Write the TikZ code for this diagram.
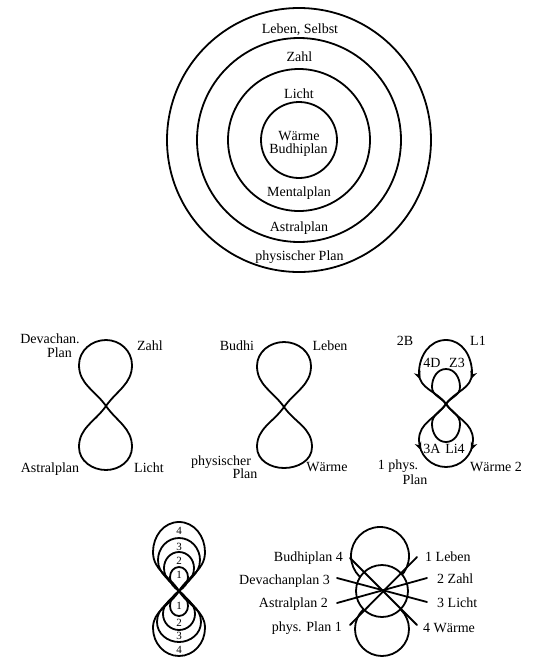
\documentclass[tikz,border=0pt]{standalone}
\usepackage{fontspec}
\setmainfont{Liberation Serif}
\usetikzlibrary{arrows.meta,decorations.markings}
\begin{document}
\begin{tikzpicture}[x=1pt,y=1pt,
  curve/.style={line width=1.8pt, line cap=round, line join=round},
  lbl/.style={font=\fontsize{14}{16}\selectfont, inner sep=0pt, anchor=base},
  lble/.style={lbl, anchor=base east},
  lblw/.style={lbl, anchor=base west},
  num/.style={font=\fontsize{11}{12}\selectfont, inner sep=0pt},
  arrowmid/.style={postaction={decorate}, decoration={markings,
     mark=at position #1 with {\arrow{Stealth[length=8pt,width=7pt]}}}}
]
\useasboundingbox (0,0) rectangle (535,-665);

% ---------- concentric circles ----------
\coordinate (cc) at (299,-140);
\foreach \r in {132,102,71,38} \draw[curve] (cc) circle[radius=\r];
\node[lbl] (t1) at (300,-33.3) {Leben, Selbst};
\node[lbl] (t2) at (299.5,-61.7) {Zahl};
\node[lbl] (t3) at (299,-98.3) {Licht};
\node[lbl] (t4) at (299,-140) {Wärme};
\node[lbl] (t5) at (298.5,-153.3) {Budhiplan};
\node[lbl] (t6) at (299,-196.7) {Mentalplan};
\node[lbl] (t7) at (299,-231.7) {Astralplan};
\node[lbl] (t8) at (299.5,-260) {physischer Plan};

% ---------- figure eight 1 ----------
\coordinate (fa) at (106,-406);
\draw[curve] (fa) to[out=125,in=-90] (79,-365) to[out=90,in=180] (106,-340)
  to[out=0,in=90] (132,-365) to[out=-90,in=55] (fa)
  to[out=-125,in=90] (79,-447) to[out=-90,in=180] (106,-470)
  to[out=0,in=-90] (132,-447) to[out=90,in=-55] (fa);
\node[lbl] (a1) at (50,-343) {Devachan.};
\node[lbl] (a2) at (59.5,-357) {Plan};
\node[lbl] (a3) at (150,-350) {Zahl};
\node[lbl] (a4) at (50,-472) {Astralplan};
\node[lbl] (a5) at (149,-472) {Licht};

% ---------- figure eight 2 ----------
\coordinate (fb) at (284,-407);
\draw[curve] (fb) to[out=125,in=-90] (257,-366) to[out=90,in=180] (284,-342)
  to[out=0,in=90] (311,-366) to[out=-90,in=55] (fb)
  to[out=-125,in=90] (257,-447) to[out=-90,in=180] (284,-468)
  to[out=0,in=-90] (312,-447) to[out=90,in=-55] (fb);
\node[lbl] (b1) at (237,-350) {Budhi};
\node[lbl] (b2) at (330,-350) {Leben};
\node[lbl] (b3) at (221,-465) {physischer};
\node[lbl] (b4) at (245,-478) {Plan};
\node[lbl] (b5) at (327,-471) {Wärme};

% ---------- figure eight 3 with arrows ----------
\coordinate (fc) at (446,-404);
\coordinate (fct) at (446,-340);
\coordinate (fcb) at (446,-467);
\draw[curve, arrowmid=0.6] (fct) to[out=180,in=90] (419,-373) to[out=-90,in=125] (fc);
\draw[curve, arrowmid=0.6] (fct) to[out=0,in=90] (472,-373) to[out=-90,in=55] (fc);
\draw[curve, arrowmid=0.64] (fc) to[out=-125,in=90] (419,-440) to[out=-90,in=180] (fcb);
\draw[curve, arrowmid=0.64] (fc) to[out=-55,in=90] (473,-440) to[out=-90,in=0] (fcb);
\draw[curve] (fc) to[out=125,in=-90] (432,-387) to[out=90,in=180] (446,-369)
  to[out=0,in=90] (460,-387) to[out=-90,in=55] (fc);
\draw[curve] (fc) to[out=-125,in=90] (432,-424) to[out=-90,in=180] (446,-442)
  to[out=0,in=-90] (460,-424) to[out=90,in=-55] (fc);
\node[lbl] (c1) at (405,-345) {2B};
\node[lbl] (c2) at (478,-345) {L1};
\node[lbl] (c3) at (432,-367) {4D};
\node[lbl] (c4) at (457,-367) {Z3};
\node[lbl] (c5) at (432,-453) {3A};
\node[lbl] (c6) at (455,-453) {Li4};
\node[lbl] (c7) at (398,-469) {1 phys.};
\node[lbl] (c8) at (415,-484) {Plan};
\node[lbl] (c9) at (496,-471) {Wärme 2};

% ---------- nested loops ----------
\coordinate (nc) at (179,-591);
\foreach \w/\m/\t/\a in {26/552/522/122, 21/560/538/126, 15/568/552/132, 9/577/567/145}
  \draw[curve] (nc) to[out=\a,in=-90] ({179-\w},-\m) to[out=90,in=180] (179,-\t)
    to[out=0,in=90] ({179+\w},-\m) to[out=-90,in={180-\a}] (nc);
\foreach \w/\m/\t/\a in {9/606/616/145, 16/614/630/132, 22/622/642/126, 26/628/656/122}
  \draw[curve] (nc) to[out=-\a,in=90] ({179-\w},-\m) to[out=-90,in=180] (179,-\t)
    to[out=0,in=-90] ({179+\w},-\m) to[out=90,in={\a-180}] (nc);
\node[num] (u4) at (179,-531) {4};
\node[num] (u3) at (179,-547) {3};
\node[num] (u2) at (179,-560.5) {2};
\node[num] (u1) at (179,-575) {1};
\node[num] (d1) at (179,-606) {1};
\node[num] (d2) at (179,-623) {2};
\node[num] (d3) at (179,-635.5) {3};
\node[num] (d4) at (179,-649.5) {4};

% ---------- three circles with crossing lines ----------
\draw[curve] (380,-556) circle[radius=29];
\draw[curve] (382,-629) circle[radius=27];
\filldraw[curve, fill=white] (382,-591) circle[radius=26];
\coordinate (pb4) at (350,-558);
\coordinate (pw4) at (417,-625);
\coordinate (pl1) at (417,-557);
\coordinate (pp1) at (350,-625);
\coordinate (pd3) at (337,-578);
\coordinate (pi3) at (427,-602);
\coordinate (pz2) at (427,-578);
\coordinate (pa2) at (337,-603);
\draw[curve] (pb4) -- (pw4);
\draw[curve] (pl1) -- (pp1);
\draw[curve] (pd3) -- (pi3);
\draw[curve] (pz2) -- (pa2);
\node[lble] (r1) at (343,-561) {Budhiplan 4};
\node[lble] (r2) at (330,-584) {Devachanplan 3};
\node[lble] (r3) at (328,-607) {Astralplan 2};
\node[lble] (r4) at (342,-631) {phys. Plan 1};
\node[lblw] (s1) at (425,-561) {1 Leben};
\node[lblw] (s2) at (437,-583) {2 Zahl};
\node[lblw] (s3) at (437,-607) {3 Licht};
\node[lblw] (s4) at (423,-632) {4 Wärme};
\end{tikzpicture}
\end{document}
